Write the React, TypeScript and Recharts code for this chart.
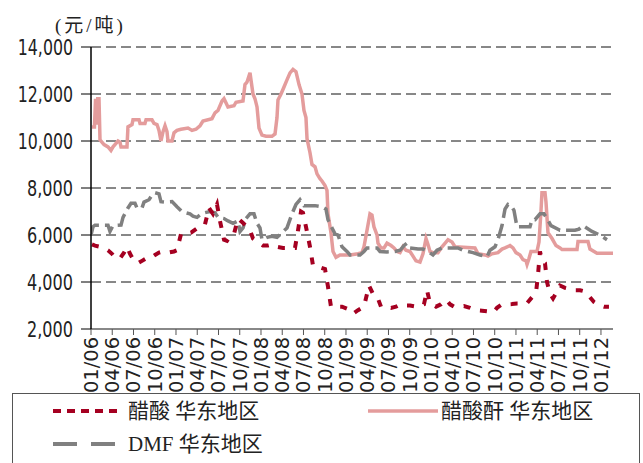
import React from "react";
import { LineChart, Line, XAxis, YAxis, CartesianGrid } from "recharts";

// x = months since Jan 2006, y = 元/吨
const xTickLabels = [
  "01/06", "04/06", "07/06", "10/06", "01/07", "04/07", "07/07", "10/07",
  "01/08", "04/08", "07/08", "10/08", "01/09", "04/09", "07/09", "10/09",
  "01/10", "04/10", "07/10", "10/10", "01/11", "04/11", "07/11", "10/11", "01/12",
];
const yTicks = [2000, 4000, 6000, 8000, 10000, 12000, 14000];

const seriesNames = ["醋酸 华东地区", "醋酸酐 华东地区", "DMF 华东地区"];

// 醋酸 华东地区
const aceticAcid: [number, number][] = [
  [0.14,5600],[0.56,5550],[1.27,5500],[1.84,5450],[2.40,5350],[2.96,5200],[3.53,5000],[4.09,5000],[4.66,5250],[5.08,5500],[5.51,5200],[6.07,4900],[6.64,4800],[7.20,4900],[7.77,5000],[8.33,5000],[9.04,5150],[9.60,5250],[10.17,5300],[10.87,5250],[11.72,5300],[12.14,5350],[12.71,6050],[13.41,6050],[14.12,6100],[14.82,6250],[15.53,6400],[16.09,6450],[16.66,7150],[17.22,6900],[17.79,7300],[18.21,6600],[18.78,5800],[19.20,5750],[19.77,6000],[20.19,6050],[20.75,6700],[21.32,6550],[21.88,6400],[22.45,6200],[22.87,5850],[23.58,5700],[24.28,5550],[24.99,5550],[25.70,5600],[26.26,5500],[27.11,5450],[28.10,5450],[28.80,5450],[29.23,6200],[29.65,7000],[29.93,6950],[30.35,6350],[30.92,5500],[31.34,4700],[32.05,4650],[33.04,4550],[33.46,3800],[33.88,2950],[34.59,2950],[35.44,2950],[36.28,2850],[36.99,2650],[37.70,2800],[38.54,2950],[39.25,3850],[39.81,3500],[40.38,3400],[40.94,2950],[41.65,2950],[42.36,2900],[43.06,2950],[43.77,3050],[44.47,3000],[45.04,3000],[46.03,2950],[46.59,3000],[47.01,3050],[47.44,3650],[47.86,3100],[48.71,2950],[49.41,3050],[50.12,3250],[50.69,3050],[51.25,2950],[51.96,2950],[52.66,2980],[53.51,2900],[54.36,2800],[55.20,2780],[56.05,2750],[56.76,2700],[57.32,2900],[57.89,3020],[58.59,3050],[59.44,3060],[60.14,3080],[60.85,3080],[61.56,3100],[62.26,3350],[62.83,3550],[63.11,4300],[63.39,5300],[63.67,4900],[64.10,4800],[64.38,4000],[64.80,3500],[65.23,3300],[65.79,3600],[66.22,3850],[66.92,3750],[67.63,3700],[68.33,3650],[69.04,3650],[69.74,3600],[70.45,3350],[71.01,3150],[71.86,3000],[72.43,2950],[73.13,2950],
];

// 醋酸酐 华东地区
const aceticAnhydride: [number, number][] = [
  [0.14,10600],[0.49,10600],[0.64,11800],[0.8,10700],[0.95,11800],[1.13,11800],[1.27,10050],[1.84,9850],[2.40,9750],[2.82,9600],[3.11,9750],[3.53,9900],[3.81,10000],[4.09,9950],[4.24,9750],[5.08,9750],[5.22,10600],[5.79,10700],[5.93,10900],[6.78,10900],[6.92,10750],[7.62,10750],[7.77,10900],[8.61,10900],[8.89,10750],[9.32,10700],[9.60,10450],[9.88,10000],[10.17,10400],[10.45,10650],[10.73,10400],[10.87,10000],[11.44,10000],[11.72,10350],[12.14,10450],[12.71,10500],[13.70,10550],[14.26,10450],[14.82,10500],[15.39,10650],[15.81,10850],[17.08,10950],[17.51,11200],[17.93,11300],[18.50,11700],[18.78,11800],[19.34,11450],[20.19,11500],[20.47,11650],[21.46,11700],[21.74,12400],[22.02,12500],[22.45,12900],[22.59,12600],[22.87,12000],[23.15,11800],[23.44,11450],[23.72,10550],[24.14,10250],[24.71,10200],[25.55,10200],[25.98,10300],[26.26,11000],[26.40,11750],[26.83,12000],[27.25,12300],[27.67,12600],[28.10,12900],[28.52,13050],[28.94,12950],[29.37,12400],[29.79,12000],[30.07,11300],[30.35,11000],[30.50,10100],[30.92,9500],[31.20,9000],[31.63,8900],[31.91,8600],[32.33,8400],[32.61,8300],[33.04,8100],[33.32,7900],[33.46,6900],[33.88,6100],[34.17,5300],[34.59,5050],[35.15,5150],[36.57,5150],[37.70,5200],[38.26,5250],[38.54,5500],[38.97,6200],[39.39,6900],[39.67,6850],[39.95,6350],[40.38,6000],[40.52,5650],[40.94,5450],[41.37,5450],[41.79,5650],[42.36,5550],[42.78,5450],[43.20,5300],[43.63,5250],[44.05,5500],[44.47,5350],[45.04,5300],[45.46,5100],[45.88,4900],[46.45,4850],[46.87,5200],[47.30,5850],[47.58,5600],[47.86,5300],[48.28,5250],[48.99,5250],[49.56,5500],[50.12,5700],[50.40,5800],[50.97,5700],[51.39,5500],[54.21,5450],[54.64,5200],[55.63,5150],[56.05,5100],[56.61,5200],[57.46,5250],[58.03,5400],[58.45,5450],[59.16,5550],[59.58,5450],[60.00,5250],[60.57,5150],[60.99,4950],[61.41,4900],[61.56,4750],[61.84,5000],[62.12,5300],[62.97,5300],[63.25,5700],[63.53,7000],[63.67,7800],[64.10,7800],[64.24,7400],[64.52,6100],[65.09,5850],[65.65,5550],[66.22,5450],[66.50,5380],[68.62,5380],[68.76,5720],[70.17,5720],[70.45,5400],[71.44,5220],[73.84,5220],
];

// DMF 华东地区
const dmf: [number, number][] = [
  [0,6000],[0.28,6350],[0.56,6420],[2.40,6420],[2.68,6150],[3.11,6400],[4.24,6420],[4.52,6750],[5.22,7150],[5.65,7350],[6.21,7350],[6.49,7150],[7.20,7150],[7.48,7400],[8.19,7500],[8.61,7700],[9.04,7800],[9.60,7750],[9.88,7420],[10.45,7400],[11.44,7420],[12.14,7200],[12.85,6990],[13.98,6900],[14.40,6800],[14.97,6750],[15.39,6850],[16.09,6950],[16.80,7000],[17.51,6950],[17.93,6750],[18.78,6700],[19.34,6600],[20.05,6500],[20.75,6600],[21.04,6150],[21.46,6300],[21.88,6700],[22.45,6900],[23.01,6900],[23.44,6500],[23.86,6300],[24.14,5800],[24.85,5900],[25.55,5950],[26.26,5900],[26.97,6100],[27.67,6300],[28.38,6900],[28.94,7300],[29.51,7500],[30.07,7250],[31.63,7250],[32.61,7200],[33.18,7100],[33.46,6650],[34.03,6300],[34.45,6050],[34.87,6000],[35.44,5500],[36.14,5300],[36.57,5150],[37.98,5150],[38.54,5300],[38.97,5450],[40.38,5450],[40.80,5300],[41.79,5280],[42.92,5300],[43.63,5350],[44.19,5550],[44.61,5650],[45.04,5450],[46.17,5400],[46.87,5400],[47.58,5300],[48.28,5150],[48.85,5350],[49.56,5450],[51.81,5450],[52.52,5350],[53.93,5250],[54.92,5150],[55.91,5080],[56.33,5350],[57.04,5500],[57.46,5800],[58.03,6400],[58.45,7100],[58.87,7300],[59.30,7250],[59.72,7050],[60.14,6350],[61.98,6350],[62.26,6650],[62.69,6650],[63.39,6900],[63.95,6900],[64.38,6700],[64.94,6400],[66.22,6200],[68.33,6200],[68.90,6250],[69.46,6400],[70.73,6150],[71.86,6000],[72.85,5800],
];

const toRows = (pts: [number, number][]) => pts.map(([m, v]) => ({ m, v }));
const xTickValues = xTickLabels.map((_, i) => i * 3);

const RED = "#A50021";
const PINK = "#E49C9C";
const GRAY = "#808080";
const NARROW = '"Liberation Sans Narrow", "Arial Narrow", "DejaVu Sans Condensed", "Liberation Sans", sans-serif';
const SERIF = '"Liberation Serif", "DejaVu Serif", "Noto Sans CJK SC", serif';

const XTick = (props: any) => {
  const { x, y, payload } = props;
  const label = xTickLabels[Math.round(payload.value / 3)] ?? "";
  return (
    <text
      transform={`translate(${x},${y}) rotate(-90)`}
      textAnchor="end"
      dy="0.36em"
      fontSize={19}
      fill="#222"
      fontFamily={NARROW}
      textLength={56}
      lengthAdjust="spacingAndGlyphs"
    >
      {label}
    </text>
  );
};

const YTick = (props: any) => {
  const { x, y, payload } = props;
  const label = Number(payload.value).toLocaleString("en-US");
  return (
    <text
      x={x}
      y={y}
      textAnchor="end"
      dy="0.36em"
      fontSize={22}
      fill="#222"
      fontFamily={NARROW}
      textLength={label.length * 9.2}
      lengthAdjust="spacingAndGlyphs"
    >
      {label}
    </text>
  );
};

export default function App() {
  return (
    <div style={{ position: "absolute", left: 0, top: 0, width: 643, height: 463, background: "#fff", overflow: "hidden" }}>
      <LineChart
        width={643}
        height={393}
        margin={{ top: 47, right: 30, left: 0, bottom: 0 }}
      >
        <CartesianGrid horizontal vertical={false} stroke="#111" strokeDasharray="10 5" />
        <XAxis
          type="number"
          dataKey="m"
          domain={[0, 73.7]}
          ticks={xTickValues}
          interval={0}
          allowDataOverflow
          height={64}
          tickSize={6}
          tickMargin={2}
          axisLine={{ stroke: "#888", strokeWidth: 2 }}
          tickLine={{ stroke: "#555" }}
          tick={<XTick />}
        />
        <YAxis
          type="number"
          domain={[2000, 14000]}
          ticks={yTicks}
          interval={0}
          width={91}
          tickSize={10}
          tickMargin={8}
          axisLine={{ stroke: "#000", strokeWidth: 1.5 }}
          tickLine={{ stroke: "#000" }}
          tick={<YTick />}
        />
        <Line
          data={toRows(aceticAnhydride)}
          dataKey="v"
          name={seriesNames[1]}
          type="linear"
          stroke={PINK}
          strokeWidth={3.5}
          dot={false}
          isAnimationActive={false}
        />
        <Line
          data={toRows(dmf)}
          dataKey="v"
          name={seriesNames[2]}
          type="linear"
          stroke={GRAY}
          strokeWidth={3.5}
          strokeDasharray="15 6"
          dot={false}
          isAnimationActive={false}
        />
        <Line
          data={toRows(aceticAcid)}
          dataKey="v"
          name={seriesNames[0]}
          type="linear"
          stroke={RED}
          strokeWidth={4}
          strokeDasharray="7 10"
          dot={false}
          isAnimationActive={false}
        />
      </LineChart>
      <div style={{ position: "absolute", left: 55, top: 14, fontSize: 19, fontFamily: SERIF, color: "#222", lineHeight: "24px", letterSpacing: 3 }}>
        (元/吨)
      </div>
      <svg style={{ position: "absolute", left: 0, top: 0 }} width={643} height={463}>
        <rect x={12.5} y={393.5} width={627} height={90} fill="#fff" stroke="#555" strokeWidth={1} />
        <line x1={53} y1={411} x2={123} y2={411} stroke={RED} strokeWidth={4} strokeDasharray="8 6" />
        <text x={128} y={411} dy="0.35em" fontSize={21} fontFamily={SERIF} fill="#222">{seriesNames[0]}</text>
        <line x1={368} y1={411} x2={438} y2={411} stroke={PINK} strokeWidth={3.5} />
        <text x={441} y={411} dy="0.35em" fontSize={21} fontFamily={SERIF} fill="#222">{seriesNames[1]}</text>
        <line x1={53} y1={444} x2={115} y2={444} stroke={GRAY} strokeWidth={4} strokeDasharray="24 14" />
        <text x={128} y={444} dy="0.35em" fontSize={21} fontFamily={SERIF} fill="#222">{seriesNames[2]}</text>
      </svg>
    </div>
  );
}
